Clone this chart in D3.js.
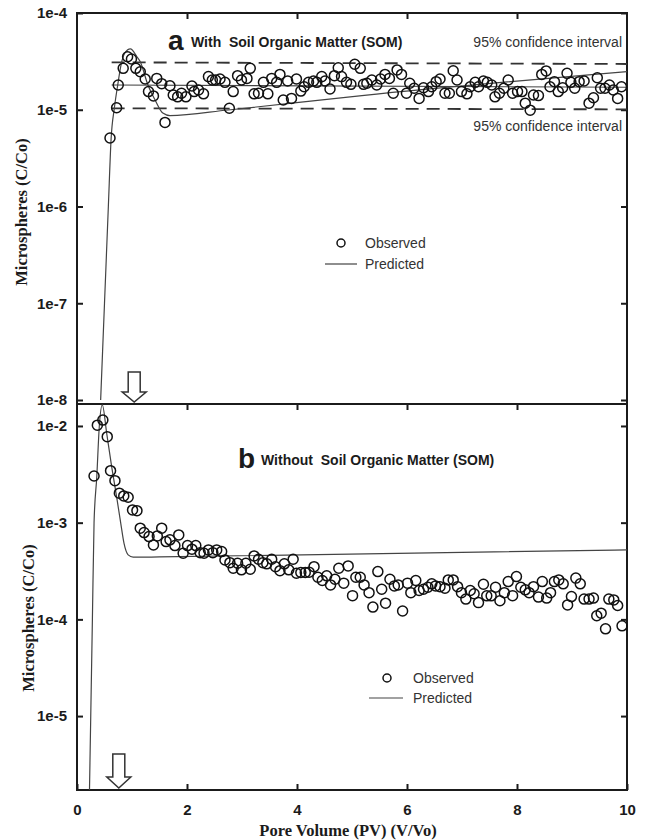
<!DOCTYPE html>
<html>
<head>
<meta charset="utf-8">
<script src="https://cdn.jsdelivr.net/npm/d3@7"></script>
<style>html,body{margin:0;padding:0;background:#fff}</style>
</head>
<body>
<div id="container"></div>
<script>
// --- Panel a: with SOM, observed microsphere breakthrough (C/Co) ---
const pvA = [0.60,0.72,0.75,0.84,0.92,0.99,1.07,1.15,1.24,1.30,1.39,1.45,1.54,1.60,1.69,1.75,1.83,1.90,1.98,2.09,
  2.13,2.21,2.30,2.39,2.46,2.52,2.60,2.69,2.77,2.84,2.92,2.99,3.09,3.15,3.22,3.30,3.39,3.47,3.54,3.63,
  3.69,3.75,3.83,3.90,3.99,4.07,4.13,4.21,4.30,4.36,4.45,4.51,4.60,4.68,4.75,4.81,4.90,4.98,5.05,5.15,
  5.21,5.27,5.36,5.45,5.52,5.60,5.68,5.75,5.82,5.90,5.99,6.05,6.13,6.22,6.30,6.39,6.45,6.53,6.60,6.69,
  6.77,6.84,6.91,6.99,7.09,7.15,7.24,7.30,7.39,7.46,7.54,7.60,7.68,7.76,7.84,7.92,8.01,8.09,8.15,8.24,
  8.30,8.39,8.45,8.53,8.60,8.68,8.75,8.83,8.91,8.98,9.05,9.13,9.22,9.31,9.39,9.46,9.52,9.60,9.68,9.75,
  9.83,9.90];
const cA = [5.1e-6,1.05e-5,1.8e-5,2.68e-5,3.53e-5,3.35e-5,2.68e-5,2.47e-5,2.08e-5,1.54e-5,
  1.39e-5,2.11e-5,1.86e-5,7.4e-6,1.77e-5,1.42e-5,1.36e-5,1.48e-5,1.36e-5,1.76e-5,
  1.54e-5,1.60e-5,1.46e-5,2.2e-5,2.03e-5,2.03e-5,2.08e-5,1.92e-5,1.035e-5,1.54e-5,
  2.25e-5,2.03e-5,2.11e-5,2.68e-5,1.46e-5,1.48e-5,1.92e-5,1.46e-5,2.11e-5,1.92e-5,
  2.32e-5,1.26e-5,1.98e-5,1.31e-5,2.08e-5,1.56e-5,1.73e-5,1.92e-5,1.98e-5,1.92e-5,
  2.2e-5,1.98e-5,1.64e-5,2.25e-5,2.72e-5,2.2e-5,1.92e-5,1.83e-5,2.95e-5,2.68e-5,
  1.83e-5,1.88e-5,2.03e-5,1.80e-5,2.08e-5,2.32e-5,2.11e-5,1.48e-5,2.58e-5,2.32e-5,
  1.48e-5,1.88e-5,1.67e-5,1.31e-5,1.69e-5,1.54e-5,1.73e-5,1.95e-5,2.08e-5,1.48e-5,
  1.48e-5,2.53e-5,2.03e-5,1.54e-5,1.46e-5,1.73e-5,1.92e-5,1.73e-5,1.98e-5,1.92e-5,
  1.80e-5,1.36e-5,1.48e-5,1.67e-5,2.03e-5,1.48e-5,1.54e-5,1.54e-5,1.17e-5,9.9e-6,
  1.42e-5,1.40e-5,2.32e-5,2.52e-5,1.73e-5,1.95e-5,1.54e-5,1.69e-5,2.38e-5,1.92e-5,
  1.67e-5,1.95e-5,1.98e-5,1.17e-5,1.33e-5,2.14e-5,1.67e-5,1.67e-5,1.80e-5,1.60e-5,
  1.31e-5,1.73e-5];

// predicted (model) curve, panel a
const predA_pv = [0.43,0.50,0.57,0.62,0.68,0.74,0.80,0.87,0.97,1.09,1.15,1.29,1.42,1.56,1.69,2.75,5.18,10];
const predA_c = [1e-8,1e-7,1e-6,5e-6,1.05e-5,1.8e-5,2.9e-5,3.86e-5,4.25e-5,3.53e-5,3.14e-5,1.8e-5,1.26e-5,9.25e-6,8.7e-6,9.94e-6,1.40e-5,2.48e-5];

// mean line and 95% confidence band, panel a
const bandPv = [0.63, 10];
const meanA = [1.80e-5, 1.71e-5];
const ciUpper = [3.09e-5, 2.97e-5];
const ciLower = [1.035e-5, 1.01e-5];

// --- Panel b: without SOM ---
const pvB = [0.31,0.37,0.47,0.55,0.61,0.69,0.77,0.85,0.93,1.01,1.09,1.15,1.22,1.31,1.39,1.46,1.54,1.62,1.69,1.78,
  1.85,1.93,2.01,2.09,2.16,2.24,2.31,2.39,2.47,2.54,2.63,2.69,2.78,2.84,2.92,2.99,3.07,3.15,3.22,3.30,
  3.38,3.45,3.54,3.61,3.69,3.77,3.85,3.93,3.99,4.07,4.15,4.22,4.31,4.38,4.46,4.54,4.61,4.69,4.76,4.85,
  4.93,5.01,5.07,5.15,5.22,5.31,5.38,5.47,5.54,5.61,5.69,5.77,5.84,5.92,6.01,6.07,6.16,6.22,6.30,6.38,
  6.45,6.52,6.60,6.69,6.75,6.84,6.92,6.99,7.07,7.15,7.22,7.30,7.39,7.45,7.53,7.61,7.69,7.77,7.84,7.92,
  7.99,8.07,8.15,8.22,8.30,8.39,8.46,8.54,8.61,8.68,8.76,8.84,8.92,8.99,9.07,9.15,9.22,9.31,9.39,9.45,
  9.53,9.61,9.67,9.76,9.83,9.91];
const cB = [3.04e-3,1.02e-2,1.15e-2,7.75e-3,3.45e-3,2.72e-3,2.02e-3,1.89e-3,1.83e-3,1.355e-3,
  1.33e-3,8.77e-4,7.89e-4,7.18e-4,5.89e-4,7.3e-4,8.77e-4,6.37e-4,6.64e-4,5.79e-4,
  7.47e-4,4.83e-4,5.79e-4,5.32e-4,5.79e-4,4.9e-4,4.83e-4,5.23e-4,4.9e-4,5.23e-4,
  5.02e-4,4.12e-4,3.86e-4,3.38e-4,3.81e-4,3.25e-4,3.81e-4,3.30e-4,4.53e-4,4.19e-4,
  3.86e-4,3.75e-4,4.19e-4,3.51e-4,3.19e-4,3.75e-4,3.25e-4,4.19e-4,3.0e-4,3.05e-4,
  3.05e-4,3.08e-4,3.51e-4,2.73e-4,2.52e-4,2.82e-4,2.27e-4,2.60e-4,3.38e-4,2.37e-4,
  3.57e-4,1.76e-4,2.73e-4,2.73e-4,2.27e-4,1.89e-4,1.34e-4,3.12e-4,2.05e-4,1.47e-4,
  2.60e-4,2.22e-4,2.27e-4,1.22e-4,2.37e-4,1.89e-4,2.52e-4,1.99e-4,2.05e-4,2.15e-4,
  2.33e-4,2.22e-4,2.18e-4,2.10e-4,2.56e-4,2.56e-4,2.18e-4,1.89e-4,1.62e-4,1.99e-4,
  1.84e-4,1.49e-4,2.31e-4,1.75e-4,1.75e-4,2.15e-4,1.56e-4,1.89e-4,2.46e-4,1.76e-4,
  2.77e-4,2.15e-4,2.02e-4,1.89e-4,2.18e-4,1.70e-4,2.46e-4,1.66e-4,1.89e-4,2.46e-4,
  2.56e-4,2.33e-4,1.41e-4,1.72e-4,2.67e-4,2.33e-4,1.62e-4,1.62e-4,1.66e-4,1.09e-4,
  1.16e-4,7.98e-5,1.62e-4,1.59e-4,1.39e-4,8.57e-5];

const predB_pv = [0.22,0.28,0.31,0.36,0.405,0.46,0.54,0.63,0.72,0.795,0.855,0.93,1.02,1.5,10];
const predB_c = [1e-6,1e-4,1e-3,3e-3,9.8e-3,1.65e-2,8.4e-3,3.8e-3,1.86e-3,9.9e-4,6.1e-4,4.65e-4,4.4e-4,4.42e-4,5.23e-4];

// axis ticks
const xTicks = [0, 2, 4, 6, 8, 10];
const yTicksA = [1e-4, 1e-5, 1e-6, 1e-7, 1e-8];
const yLabelsA = ["1e-4", "1e-5", "1e-6", "1e-7", "1e-8"];
const yTicksB = [1e-2, 1e-3, 1e-4, 1e-5];
const yLabelsB = ["1e-2", "1e-3", "1e-4", "1e-5"];

// injection arrows (pore volume)
const arrowA = 1.04;
const arrowB = 0.76;

const width = 648, height = 840;
const L = 77, R = 627;
const sans = '"Liberation Sans", Arial, Helvetica, sans-serif';
const serif = '"Liberation Serif", "Times New Roman", serif';
const ink = "#1b1b1b";

const svg = d3.select("#container").append("svg")
  .attr("width", width).attr("height", height)
  .style("background", "#fff");

const x = d3.scaleLinear().domain([0, 10]).range([L, R]);
const yA = d3.scaleLog().domain([1e-8, 1e-4]).range([400, 13]);
const yB = d3.scaleLog().domain([1.72e-6, 0.01687]).range([790, 404]);

const defs = svg.append("defs");
defs.append("clipPath").attr("id", "clipA").append("rect")
  .attr("x", L).attr("y", 13).attr("width", R - L).attr("height", 387);
defs.append("clipPath").attr("id", "clipB").append("rect")
  .attr("x", L).attr("y", 404).attr("width", R - L).attr("height", 386);

// --- axes (ticks point inward) ---
function styleAxis(g) {
  g.select(".domain").remove();
  g.selectAll(".tick line").attr("stroke", ink).attr("stroke-width", 2);
  g.selectAll(".tick text")
    .attr("fill", ink)
    .style("font-family", sans)
    .style("font-size", "15px")
    .style("font-weight", "bold");
}

function yAxes(y, ticks, labels) {
  svg.append("g").attr("transform", `translate(${L},0)`)
    .call(d3.axisLeft(y).tickValues(ticks).tickFormat((d, i) => labels[i])
      .tickSize(-6).tickPadding(10).tickSizeOuter(0))
    .call(styleAxis);
  svg.append("g").attr("transform", `translate(${R},0)`)
    .call(d3.axisRight(y).tickValues(ticks).tickFormat("").tickSize(-6).tickSizeOuter(0))
    .call(styleAxis);
}
yAxes(yA, yTicksA, yLabelsA);
yAxes(yB, yTicksB, yLabelsB);

[13, 404].forEach(ty => {
  svg.append("g").attr("transform", `translate(0,${ty})`)
    .call(d3.axisBottom(x).tickValues([2, 4, 6, 8]).tickFormat("").tickSize(6).tickSizeOuter(0))
    .call(styleAxis);
});
svg.append("g").attr("transform", "translate(0,790)")
  .call(d3.axisBottom(x).tickValues(xTicks).tickFormat(d3.format("d"))
    .tickSize(-6).tickPadding(14).tickSizeOuter(0))
  .call(styleAxis);

// frames
svg.append("path")
  .attr("d", `M${L},13H${R}V790H${L}Z M${L},404H${R}`)
  .attr("fill", "none").attr("stroke", ink).attr("stroke-width", 2);

// --- Panel a content ---
const band = (vals) => vals.map((v, i) => [bandPv[i], v]);
const lineA = d3.line().x(d => x(d[0])).y(d => yA(d[1]));

[ciUpper, ciLower].forEach(vals => {
  svg.append("path").datum(band(vals))
    .attr("d", lineA).attr("fill", "none")
    .attr("stroke", "#333").attr("stroke-width", 1.8)
    .attr("stroke-dasharray", "13,8");
});
svg.append("path").datum(band(meanA))
  .attr("d", lineA).attr("fill", "none")
  .attr("stroke", "#444").attr("stroke-width", 1.1);

svg.append("path")
  .datum(predA_pv.map((p, i) => [p, predA_c[i]]))
  .attr("clip-path", "url(#clipA)")
  .attr("d", d3.line().x(d => x(d[0])).y(d => yA(d[1])).curve(d3.curveMonotoneX))
  .attr("fill", "none").attr("stroke", "#444").attr("stroke-width", 1.2);

svg.append("g").selectAll("circle").data(pvA).join("circle")
  .attr("cx", d => x(d)).attr("cy", (d, i) => yA(cA[i])).attr("r", 5)
  .attr("fill", "none").attr("stroke", "#111").attr("stroke-width", 1.5);

// --- Panel b content ---
svg.append("path")
  .datum(predB_pv.map((p, i) => [p, predB_c[i]]))
  .attr("clip-path", "url(#clipB)")
  .attr("d", d3.line().x(d => x(d[0])).y(d => yB(d[1])).curve(d3.curveMonotoneX))
  .attr("fill", "none").attr("stroke", "#444").attr("stroke-width", 1.2);

svg.append("g").selectAll("circle").data(pvB).join("circle")
  .attr("cx", d => x(d)).attr("cy", (d, i) => yB(cB[i])).attr("r", 5)
  .attr("fill", "none").attr("stroke", "#111").attr("stroke-width", 1.5);

// --- hollow arrows marking end of pulse ---
function arrow(cx, top, neck, tip) {
  const p = d3.path();
  p.moveTo(cx - 6, top); p.lineTo(cx + 6, top); p.lineTo(cx + 6, neck);
  p.lineTo(cx + 12, neck); p.lineTo(cx, tip); p.lineTo(cx - 12, neck);
  p.lineTo(cx - 6, neck); p.closePath();
  svg.append("path").attr("d", p.toString())
    .attr("fill", "#fff").attr("stroke", "#333").attr("stroke-width", 1.5);
}
arrow(x(arrowA), 372, 392, 402);
arrow(x(arrowB), 754, 777, 788);

// --- panel titles ---
function title(px, py, letter, label) {
  svg.append("text").attr("x", px).attr("y", py)
    .attr("fill", ink).style("font-family", sans)
    .style("font-size", "28px").style("font-weight", "bold").text(letter);
  svg.append("text").attr("x", px + 23).attr("y", py - 3)
    .attr("fill", ink).style("font-family", sans).style("white-space", "pre")
    .style("font-size", "14px").style("font-weight", "bold").text(label);
}
title(168, 50, "a", "With  Soil Organic Matter (SOM)");
title(238, 468, "b", "Without  Soil Organic Matter (SOM)");

["95% confidence interval", "95% confidence interval"].forEach((s, i) => {
  svg.append("text").attr("x", 622).attr("y", i ? 131 : 47)
    .attr("text-anchor", "end").attr("fill", "#333")
    .style("font-family", sans).style("font-size", "14px").text(s);
});

// --- legends ---
function legend(cx, lx0, lx1, tx, y1, y2) {
  svg.append("circle").attr("cx", cx).attr("cy", y1).attr("r", 4)
    .attr("fill", "none").attr("stroke", "#111").attr("stroke-width", 1.5);
  svg.append("line").attr("x1", lx0).attr("x2", lx1).attr("y1", y2).attr("y2", y2)
    .attr("stroke", "#444").attr("stroke-width", 1.2);
  [["Observed", y1], ["Predicted", y2]].forEach(([s, yy]) => {
    svg.append("text").attr("x", tx).attr("y", yy + 5)
      .attr("fill", "#333").style("font-family", sans).style("font-size", "14px").text(s);
  });
}
legend(341, 325, 357, 365, 243, 264);
legend(387, 369, 403, 413, 678, 698);

// --- axis titles ---
[[27, 212], [34, 618]].forEach(([tx, ty]) => {
  svg.append("text")
    .attr("transform", `translate(${tx},${ty}) rotate(-90)`)
    .attr("text-anchor", "middle").attr("fill", ink)
    .style("font-family", serif).style("font-size", "16.5px").style("font-weight", "bold")
    .text("Microspheres (C/Co)");
});
svg.append("text")
  .attr("x", 348).attr("y", 836).attr("text-anchor", "middle").attr("fill", ink)
  .style("font-family", serif).style("font-size", "16.5px").style("font-weight", "bold")
  .text("Pore Volume (PV) (V/Vo)");
</script>
</body>
</html>
